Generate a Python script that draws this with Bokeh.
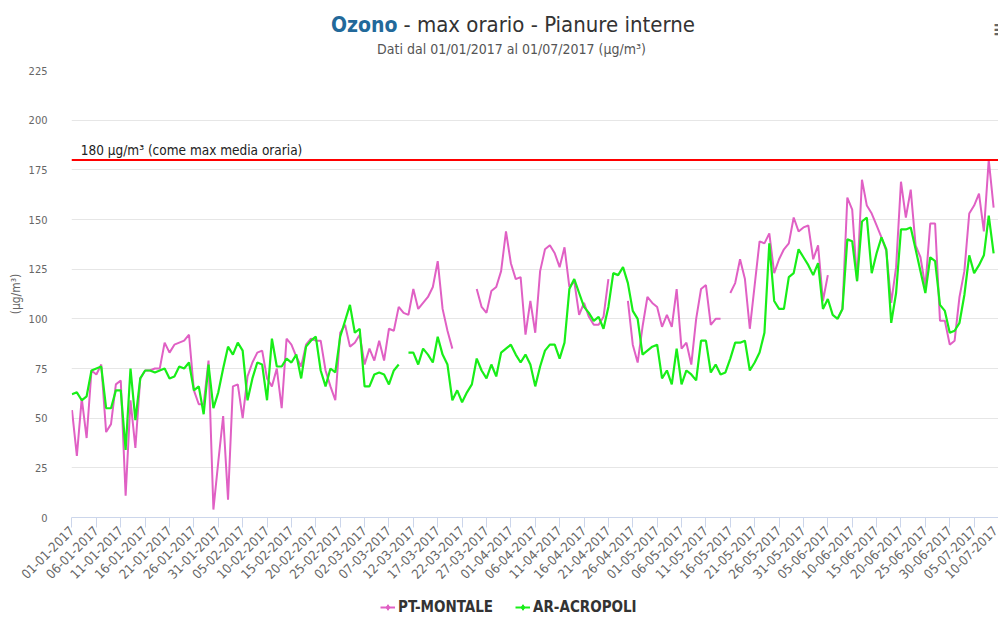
import math
from bokeh.plotting import figure
from bokeh.layouts import column
from bokeh.models import (Range1d, FixedTicker, Span, Label, Legend, LegendItem,
                          ColumnDataSource)
from bokeh.embed import file_html
from bokeh.resources import INLINE

nan = float("nan")

# ---------------- data ----------------
days = list(range(190))  # day index from 01-01-2017

pt_montale = [
    54, 31, 60, 40, 74, 72, 77, 43, 47, 67,
    69, 11, 59, 35, 70, 74, 74, 75, 75, 88,
    83, 87, 88, 89, 92, 64, 57, 57, 79, 4,
    28, 51, 9, 66, 67, 50, 71, 78, 83, 84,
    70, 66, 75, 55, 90, 87, 81, 76, 87, 90,
    89, 89, 74, 66, 59, 93, 97, 86, 88, 92,
    77, 85, 79, 89, 79, 95, 94, 106, 103, 102,
    115, 105, 108, 111, 116, 129, 105, 94, 85, nan,
    nan, nan, nan, 115, 106, 103, 114, 116, 124, 144,
    128, 120, 121, 92, 109, 93, 124, 135, 137, 133,
    126, 136, 116, 119, 102, 108, 101, 97, 97, 101,
    120, nan, nan, nan, 109, 87, 78, 96, 111, 108,
    106, 96, 102, 96, 115, 85, 88, 77, 100, 115,
    117, 97, 100, 100, nan, 113, 118, 130, 120, 95,
    117, 139, 138, 143, 123, 130, 135, 138, 151, 144,
    146, 147, 130, 137, 109, 122, nan, 100, 105, 161,
    155, 119, 170, 157, 153, 147, 141, 134, 108, 126,
    169, 151, 165, 137, 131, 116, 148, 148, 99, 99,
    87, 89, 111, 124, 153, 157, 163, 144, 180, 156,
]

ar_acropoli = [
    62, 63, 59, 61, 74, 75, 76, 55, 55, 64,
    64, 34, 75, 49, 70, 74, 74, 73, 74, 75,
    70, 71, 76, 75, 78, 64, 66, 52, 77, 55,
    63, 75, 86, 82, 88, 84, 59, 70, 78, 77,
    59, 90, 76, 76, 80, 78, 82, 70, 86, 89,
    91, 74, 66, 75, 73, 91, 99, 107, 93, 95,
    66, 66, 72, 73, 72, 67, 74, 77, nan, 83,
    83, 77, 85, 82, 78, 91, 82, 77, 59, 64,
    58, 63, 67, 80, 74, 70, 77, 71, 83, 85,
    87, 82, 78, 82, 77, 66, 76, 84, 87, 87,
    80, 88, 115, 120, 113, 106, 103, 99, 101, 95,
    106, 123, 122, 126, 118, 104, 100, 82, 84, 86,
    87, 70, 74, 67, 85, 67, 74, 72, 69, 89,
    89, 73, 77, 72, 73, 80, 88, 88, 89, 74,
    78, 83, 93, 138, 109, 105, 105, 121, 123, 135,
    131, 127, 122, 128, 105, 110, 102, 100, 105, 140,
    139, 119, 149, 151, 123, 133, 141, 135, 98, 113,
    145, 145, 146, 135, 124, 113, 131, 129, 107, 104,
    93, 94, 98, 112, 132, 123, 127, 132, 152, 133,
]

tick_days = list(range(0, 191, 5))
tick_labels = [
    "01-01-2017", "06-01-2017", "11-01-2017", "16-01-2017", "21-01-2017",
    "26-01-2017", "31-01-2017", "05-02-2017", "10-02-2017", "15-02-2017",
    "20-02-2017", "25-02-2017", "02-03-2017", "07-03-2017", "12-03-2017",
    "17-03-2017", "22-03-2017", "27-03-2017", "01-04-2017", "06-04-2017",
    "11-04-2017", "16-04-2017", "21-04-2017", "26-04-2017", "01-05-2017",
    "06-05-2017", "11-05-2017", "16-05-2017", "21-05-2017", "26-05-2017",
    "31-05-2017", "05-06-2017", "10-06-2017", "15-06-2017", "20-06-2017",
    "25-06-2017", "30-06-2017", "05-07-2017", "10-07-2017",
]
y_ticks = [0, 25, 50, 75, 100, 125, 150, 175, 200, 225]
threshold = 180
threshold_label = "180 μg/m³ (come max media oraria)"
series_names = ["PT-MONTALE", "AR-ACROPOLI"]
title_main = "Ozono"
title_rest = "- max orario - Pianure interne"
subtitle = "Dati dal 01/01/2017 al 01/07/2017 (μg/m³)"

# ---------------- style ----------------
FONT = "DejaVu Sans Condensed"
PINK = "#e060c4"
GREEN = "#18ee18"
W = 998
FX0, FX1 = 71, W   # horizontal extent of the (aligned) plot frames, page px


def bare_figure(h):
    f = figure(width=W, height=h, output_backend="svg", toolbar_location=None,
               x_range=Range1d(FX0, FX1), y_range=Range1d(0, h), min_border=0,
               x_axis_location=None, y_axis_location=None)
    f.grid.grid_line_color = None
    f.outline_line_color = None
    return f


# ---------- header (title + subtitle) ----------
hdr = bare_figure(63)
hdr.add_layout(Label(x=397, y=39, text=title_main, text_font=FONT,
                     text_font_size="21px", text_font_style="bold",
                     text_color="#22699a", text_align="right",
                     text_baseline="middle"))
hdr.add_layout(Label(x=403, y=39, text=title_rest, text_font=FONT,
                     text_font_size="22px", text_color="#333333",
                     text_align="left", text_baseline="middle"))
hdr.add_layout(Label(x=511, y=15, text=subtitle, text_font=FONT,
                     text_font_size="14px", text_color="#555555",
                     text_align="center", text_baseline="middle"))
hdr.add_layout(Label(x=992, y=35, text="≡", text_font="DejaVu Sans",
                     text_font_size="20px", text_color="#666666",
                     text_font_style="bold", text_align="left",
                     text_baseline="middle"))

# ---------- main chart ----------
p = figure(width=W, height=527, output_backend="svg", toolbar_location=None,
           x_range=Range1d(-0.1, 190.0), y_range=Range1d(0, 225),
           min_border_left=71, min_border_right=0, min_border_top=7,
           min_border_bottom=73)
p.outline_line_color = None

src = ColumnDataSource(dict(x=days, pt=pt_montale, ar=ar_acropoli))
p.line("x", "pt", source=src, line_color=PINK, line_width=2)
p.line("x", "ar", source=src, line_color=GREEN, line_width=2.2)

p.add_layout(Span(location=threshold, dimension="width", line_color="#ff0000",
                  line_width=2))
p.add_layout(Label(x=1.8, y=threshold, y_offset=2, text=threshold_label,
                   text_font=FONT, text_font_size="13.5px",
                   text_color="#222222", text_baseline="bottom"))

xa = p.xaxis[0]
xa.ticker = FixedTicker(ticks=tick_days)
xa.major_label_overrides = {d: s for d, s in zip(tick_days, tick_labels)}
xa.major_label_orientation = math.pi / 4
xa.axis_line_color = "#ccd6eb"
xa.major_tick_line_color = "#ccd6eb"
xa.major_tick_out = 10
xa.major_tick_in = 0
xa.minor_tick_line_color = None
xa.major_label_text_font = FONT
xa.major_label_text_font_size = "13px"
xa.major_label_text_color = "#666666"
xa.major_label_standoff = 1

ya = p.yaxis[0]
ya.ticker = FixedTicker(ticks=y_ticks)
ya.axis_line_color = None
ya.major_tick_line_color = None
ya.minor_tick_line_color = None
ya.major_label_text_font = FONT
ya.major_label_text_font_size = "11px"
ya.major_label_text_color = "#666666"
ya.major_label_standoff = 18
ya.axis_label = "(μg/m³)"
ya.axis_label_text_font = FONT
ya.axis_label_text_font_size = "12px"
ya.axis_label_text_font_style = "normal"
ya.axis_label_text_color = "#666666"
ya.axis_label_standoff = 3

p.xgrid.grid_line_color = None
p.ygrid.grid_line_color = "#e6e6e6"
p.ygrid.grid_line_width = 1

# ---------- footer (legend) ----------
ftr = bare_figure(26)
# legend swatch renderers: one point placed outside the visible range
swatch = ColumnDataSource(dict(x=[-1e6, -1e6 + 1], y=[-1e6, -1e6]))
l_pt = ftr.line("x", "y", source=swatch, line_color=PINK, line_width=2)
s_pt = ftr.scatter("x", "y", source=swatch, marker="diamond", size=11,
                   fill_color=PINK, line_color=PINK)
l_ar = ftr.line("x", "y", source=swatch, line_color=GREEN, line_width=2)
s_ar = ftr.scatter("x", "y", source=swatch, marker="diamond", size=11,
                   fill_color=GREEN, line_color=GREEN)
legend = Legend(items=[LegendItem(label=series_names[0], renderers=[l_pt, s_pt]),
                       LegendItem(label=series_names[1], renderers=[l_ar, s_ar])],
                orientation="horizontal", location=(309, 0))
legend.label_text_font = FONT
legend.label_text_font_size = "15px"
legend.label_text_font_style = "bold"
legend.label_text_color = "#333333"
legend.border_line_color = None
legend.background_fill_alpha = 0
legend.glyph_width = 15
legend.glyph_height = 14
legend.label_height = 14
legend.padding = 2
legend.margin = 0
legend.spacing = 22
legend.label_standoff = 3
ftr.add_layout(legend)

layout = column(hdr, p, ftr, spacing=0)
open("out.html", "w").write(file_html(layout, INLINE))
